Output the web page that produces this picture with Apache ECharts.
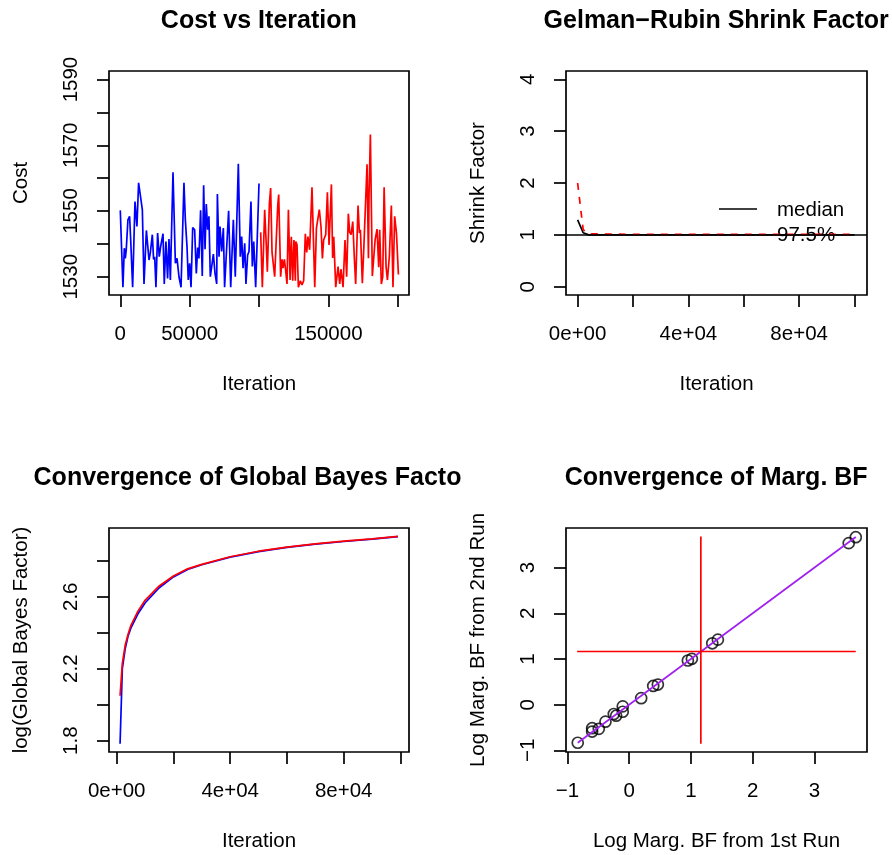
<!DOCTYPE html>
<html><head><meta charset="utf-8">
<script src="https://cdn.jsdelivr.net/npm/echarts@6/dist/echarts.min.js"></script>
<style>html,body{margin:0;padding:0;background:#fff}#c{width:892px;height:855px}</style>
</head><body><div id="c"></div>
<script>
// ---- Panel 1: Cost vs Iteration ----
const costIterBlue = [0,1900,2900,3600,4300,5500,6700,7500,8900,10600,12000,13200,14400,15900,17100,18800,20700,21600,23100,24000,24800,25700,26900,28100,29100,30800,31700,32900,34100,35100,36100,38000,39700,40900,42300,43800,45900,46900,48100,49000,50000,51000,52200,53600,54800,55800,56700,57900,59100,60100,61100,62000,63000,63900,64900,67100,68300,69500,70000,71200,71900,73100,74300,75200,78100,79600,81500,82900,85100,86500,87500,88500,89700,90600,91800,92800,94200,95200,96200,97600,100000];
const costBlue = [1550.2,1526.8,1538.7,1535.6,1538.2,1547.3,1548.4,1541.2,1526.8,1552.9,1545.3,1558.6,1558.8,1550.4,1527.8,1544.1,1535.1,1537.1,1542.8,1535.3,1536.1,1526.8,1543.3,1536.1,1539.2,1543.1,1527.8,1540.7,1529.5,1541.5,1529.0,1561.8,1534.1,1535.6,1530.0,1526.8,1558.6,1547.3,1539.2,1529.0,1534.1,1526.8,1545.0,1544.3,1531.0,1538.9,1535.6,1550.2,1530.2,1557.8,1538.4,1552.1,1544.3,1548.4,1530.0,1536.9,1531.0,1527.8,1555.2,1536.1,1545.3,1537.7,1544.8,1526.8,1550.1,1526.8,1547.3,1530.0,1564.4,1536.1,1542.2,1532.6,1540.2,1527.8,1536.6,1537.7,1552.9,1533.1,1540.7,1526.8,1558.4];
const costIterRed = [101200,102400,104100,105300,106000,107500,108400,109400,110600,111300,113500,114200,115600,116600,117300,118300,119200,120200,121200,122400,123300,124300,125200,126200,126500,127400,128400,129800,131000,132200,133400,134400,135300,136500,138200,140200,141400,142300,143500,144700,145700,146600,148100,149300,150500,152200,153100,153900,155300,157000,158200,159100,160600,162000,163200,164400,165400,166400,167600,168800,169700,171400,172400,173100,174500,175700,176900,177900,178900,179300,180300,181700,182700,183700,185100,186300,187000,188200,189200,190200,191600,192600,194000,195400,196600,197800,199100,200500];
const costRed = [1543.5,1526.8,1550.4,1539.2,1531.5,1552.4,1557.0,1537.4,1537.7,1530.0,1551.6,1555.0,1530.0,1535.3,1532.6,1535.3,1532.0,1527.8,1550.4,1529.0,1542.2,1528.8,1541.2,1528.8,1540.7,1539.7,1526.8,1528.8,1527.5,1528.8,1543.1,1537.4,1542.2,1538.2,1557.2,1526.8,1544.8,1545.3,1550.4,1545.3,1535.6,1541.2,1542.8,1555.7,1539.7,1558.1,1535.7,1542.2,1526.8,1533.1,1527.8,1532.3,1526.8,1541.2,1530.0,1549.2,1543.5,1542.8,1546.8,1535.1,1527.8,1551.7,1543.3,1544.3,1528.0,1540.2,1540.7,1564.2,1535.6,1554.5,1573.3,1530.2,1530.0,1541.2,1544.5,1532.9,1544.3,1527.8,1530.0,1557.2,1533.1,1529.0,1536.4,1551.7,1526.8,1548.4,1543.3,1530.7];
const costXTicks = [0,50000,100000,150000,200000];
const costXLabels = [0,50000,150000];
const costYTicks = [1530,1540,1550,1560,1570,1580,1590];
const costYLabels = [1530,1550,1570,1590];

// ---- Panel 2: Gelman-Rubin shrink factor ----
const shrinkIter = [0,2000,4000,20000,40000,60000,80000,100000];
const shrinkMedian = [1.29,1.04,1.00,1.00,1.00,1.00,1.00,1.00];
const shrinkUpper = [2.00,1.10,1.02,1.01,1.01,1.01,1.01,1.01];
const shrinkXTicks = [0,20000,40000,60000,80000,100000];
const shrinkXLabels = [0,40000,80000];
const shrinkYTicks = [0,1,2,3,4];
const shrinkLegend = ['median','97.5%'];

// ---- Panel 3: Convergence of global Bayes factor ----
const bfIter = [1200,2000,3000,4000,5000,7500,10000,15000,20000,25000,30000,40000,50000,60000,70000,80000,90000,99100];
const bfBlue = [1.783,2.20,2.31,2.38,2.425,2.505,2.565,2.65,2.71,2.752,2.778,2.82,2.851,2.874,2.892,2.907,2.92,2.934];
const bfRed  = [2.05,2.23,2.33,2.39,2.44,2.52,2.58,2.66,2.715,2.755,2.78,2.822,2.853,2.876,2.894,2.909,2.922,2.935];
const bfYTicks = [1.8,2.0,2.2,2.4,2.6,2.8];
const bfYLabels = [1.8,2.2,2.6];

// ---- Panel 4: Convergence of marginal BF ----
const margRun1 = [-0.833,-0.600,-0.600,-0.492,-0.384,-0.249,-0.211,-0.104,-0.104,0.194,0.389,0.464,0.950,1.015,1.345,1.436,3.554,3.668];
const margRun2 = [-0.833,-0.514,-0.588,-0.529,-0.371,-0.204,-0.241,-0.037,-0.154,0.143,0.410,0.440,0.967,1.004,1.343,1.423,3.534,3.664];
const margFitX = [-0.833,3.668];
const margFitY = [-0.833,3.668];
const margRefX = 1.16, margRefYSpan = [-0.855,3.68];
const margRefY = 1.163, margRefXSpan = [-0.843,3.668];
const margTicks = [-1,0,1,2,3];

const FONT = "'Liberation Sans', Arial, Helvetica, sans-serif";
const FS = 20.5, TFS = 25, LW = 1.7;
const minus = v => (v < 0 ? '\u2212' + Math.abs(v) : String(v));
const sci = v => ({0:'0e+00',20000:'2e+04',40000:'4e+04',60000:'6e+04',80000:'8e+04',100000:'1e+05'})[v];

function axis(gi, min, max, ticks, labels, fmt, name, isY) {
  return {
    type: 'value', gridIndex: gi, min: min, max: max,
    name: name, nameLocation: 'middle', nameGap: isY ? 77 : 79,
    nameTextStyle: {fontFamily: FONT, fontSize: FS, color: '#000'},
    splitLine: {show: false}, axisLine: {show: false, onZero: false},
    axisTick: {show: true, length: 12, customValues: ticks, lineStyle: {color: '#000', width: LW}},
    axisLabel: {show: true, customValues: labels, formatter: fmt, margin: isY ? 27 : 29,
      rotate: isY ? 90 : 0, fontFamily: FONT, fontSize: FS, color: '#000'}
  };
}
const gridBase = {show: true, borderColor: '#000', borderWidth: LW, backgroundColor: 'transparent', containLabel: false, outerBoundsMode: 'none'};
const pairs = (xs, ys) => xs.map((x, i) => [x, ys[i]]);
const lineS = (xi, data, color, extra) => Object.assign({
  type: 'line', xAxisIndex: xi, yAxisIndex: xi, data: data, symbol: 'none', showSymbol: false,
  lineStyle: {color: color, width: LW}, itemStyle: {color: color}, silent: true, animation: false
}, extra || {});
const txt = (x, y, text, size, bold, rot, align) => ({
  type: 'text', x: x, y: y, rotation: rot || 0, silent: true,
  style: {text: text, fontFamily: FONT, fontSize: size, fontWeight: bold ? 'bold' : 'normal', fill: '#000',
    align: align || 'center', verticalAlign: 'middle', textAlign: align || 'center', textVerticalAlign: 'middle'}
});

const option = {
  animation: false,
  backgroundColor: '#fff',
  textStyle: {fontFamily: FONT},
  grid: [
    Object.assign({left: 109, top: 71, width: 300, height: 224}, gridBase),
    Object.assign({left: 566, top: 71, width: 301, height: 224}, gridBase),
    Object.assign({left: 109, top: 528, width: 300, height: 224}, gridBase),
    Object.assign({left: 566, top: 528, width: 301, height: 224}, gridBase)
  ],
  xAxis: [
    axis(0, -8140, 208140, costXTicks, costXLabels, v => String(v), 'Iteration', false),
    axis(1, -4200, 104500, shrinkXTicks, shrinkXLabels, sci, 'Iteration', false),
    axis(2, -2700, 103000, shrinkXTicks, shrinkXLabels, sci, 'Iteration', false),
    axis(3, -1.023, 3.85, margTicks, margTicks, minus, 'Log Marg. BF from 1st Run', false)
  ],
  yAxis: [
    axis(0, 1524.45, 1592.6, costYTicks, costYLabels, v => String(v), 'Cost', true),
    axis(1, -0.16, 4.16, shrinkYTicks, shrinkYTicks, v => String(v), 'Shrink Factor', true),
    axis(2, 1.737, 2.982, bfYTicks, bfYLabels, v => v.toFixed(1), 'log(Global Bayes Factor)', true),
    axis(3, -1.035, 3.865, margTicks, margTicks, minus, 'Log Marg. BF from 2nd Run', true)
  ],
  series: [
    lineS(0, pairs(costIterBlue, costBlue), '#0000FF'),
    lineS(0, pairs(costIterRed, costRed), '#FF0000'),
    lineS(1, pairs(shrinkIter, shrinkMedian), '#000000', {
      name: shrinkLegend[0],
      markLine: {silent: true, symbol: ['none', 'none'], label: {show: false}, animation: false,
        lineStyle: {color: '#000', width: LW, type: 'solid'}, data: [{yAxis: 1}]}
    }),
    lineS(1, pairs(shrinkIter, shrinkUpper), '#FF0000', {name: shrinkLegend[1], lineStyle: {color: '#FF0000', width: LW, type: [7, 7]}}),
    lineS(2, pairs(bfIter, bfBlue), '#0000FF'),
    lineS(2, pairs(bfIter, bfRed), '#FF0000'),
    {type: 'scatter', xAxisIndex: 3, yAxisIndex: 3, data: pairs(margRun1, margRun2), symbol: 'circle', symbolSize: 11,
      itemStyle: {color: 'rgba(0,0,0,0)', borderColor: '#000', borderWidth: LW}, silent: true, animation: false},
    lineS(3, pairs(margFitX, margFitY), '#A020F0'),
    lineS(3, margRefYSpan.map(y => [margRefX, y]), '#FF0000'),
    lineS(3, margRefXSpan.map(x => [x, margRefY]), '#FF0000')
  ],
  graphic: [
    txt(258.8, 21, 'Cost vs Iteration', TFS, true),
    txt(716.2, 21, 'Gelman\u2212Rubin Shrink Factor', TFS, true),
    txt(247.5, 478, 'Convergence of Global Bayes Facto', TFS, true),
    txt(716.2, 478, 'Convergence of Marg. BF', TFS, true),
    {type: 'line', silent: true, shape: {x1: 719, y1: 209, x2: 757, y2: 209}, style: {stroke: '#000', lineWidth: LW}},
    {type: 'line', silent: true, shape: {x1: 719, y1: 235, x2: 757, y2: 235}, style: {stroke: '#FF0000', lineWidth: LW, lineDash: [7, 7]}},
    txt(777, 210, shrinkLegend[0], FS, false, 0, 'left'),
    txt(777, 235, shrinkLegend[1], FS, false, 0, 'left')
  ]
};
const chart = echarts.init(document.getElementById('c'), null, {renderer: 'canvas'});
chart.setOption(option);
</script></body></html>
